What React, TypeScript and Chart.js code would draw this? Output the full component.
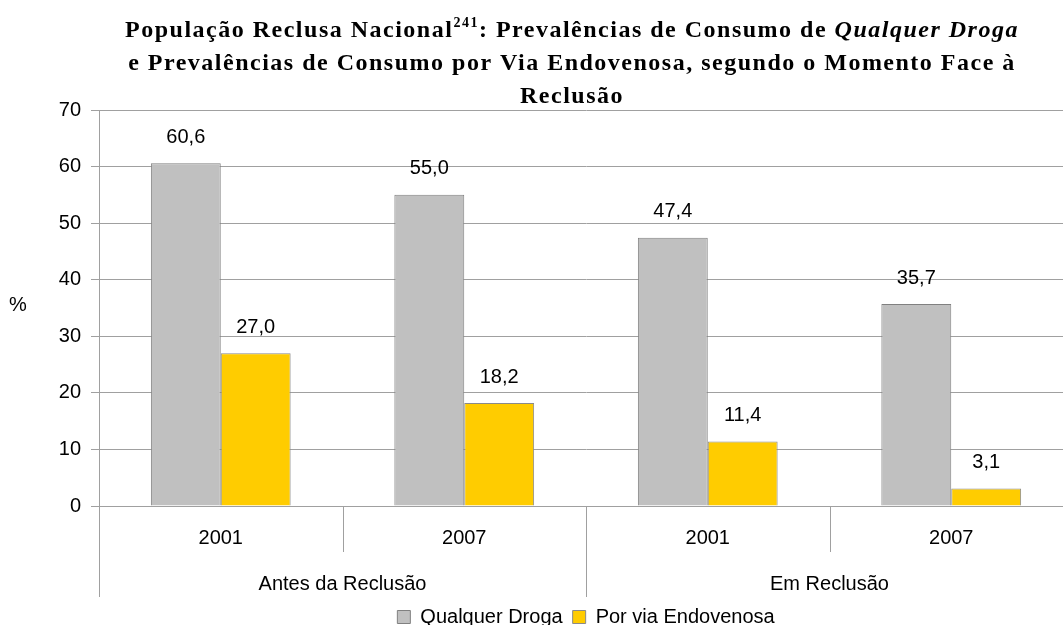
import React, { useEffect, useRef } from "react";
import { Chart, registerables } from "chart.js";

Chart.register(...registerables);

const periods = ["Antes da Reclusão", "Em Reclusão"];
const years = ["2001", "2007", "2001", "2007"];
const qualquerDroga = [60.6, 55.0, 47.4, 35.7];
const viaEndovenosa = [27.0, 18.2, 11.4, 3.1];
const seriesNames = ["Qualquer Droga", "Por via Endovenosa"];
const yMin = 0;
const yMax = 70;
const yStep = 10;
const yAxisLabel = "%";

type Seg = { t: string; italic?: boolean; sup?: boolean };
const titleLines: Seg[][] = [
  [
    { t: "População Reclusa Nacional" },
    { t: "241", sup: true },
    { t: ": Prevalências de Consumo de " },
    { t: "Qualquer Droga", italic: true },
  ],
  [{ t: "e Prevalências de Consumo por Via Endovenosa, segundo o Momento Face à" }],
  [{ t: "Reclusão" }],
];

const SANS = "'Liberation Sans', Arial, sans-serif";
const SERIF = "'Liberation Serif', 'Times New Roman', serif";

const overlayPlugin = {
  id: "overlay",
  afterDraw(chart: any) {
    const ctx = chart.ctx as CanvasRenderingContext2D;
    const area = chart.chartArea;
    const xs = chart.scales.x;

    ctx.save();
    // Title
    const titleSize = 24;
    const fontFor = (s: Seg) =>
      `${s.italic ? "italic " : ""}bold ${s.sup ? 14 : titleSize}px ${SERIF}`;
    (ctx as any).letterSpacing = "1.5px";
    ctx.fillStyle = "#000";
    ctx.textBaseline = "alphabetic";
    ctx.textAlign = "left";
    const baselines = [37, 70, 103];
    const titleCenter = 572;
    titleLines.forEach((line, li) => {
      let total = 0;
      line.forEach((s) => {
        ctx.font = fontFor(s);
        total += ctx.measureText(s.t).width;
      });
      let x = titleCenter - total / 2;
      line.forEach((s) => {
        ctx.font = fontFor(s);
        ctx.fillText(s.t, x, baselines[li] - (s.sup ? 10 : 0));
        x += ctx.measureText(s.t).width;
      });
    });
    (ctx as any).letterSpacing = "0px";

    // Y axis label
    ctx.font = `20px ${SANS}`;
    ctx.textAlign = "center";
    ctx.textBaseline = "middle";
    ctx.fillText(yAxisLabel, 18, (area.top + area.bottom) / 2 - 3);

    // Category separators
    const catW = (area.right - area.left) / years.length;
    ctx.strokeStyle = "#a0a0a0";
    ctx.lineWidth = 1;
    for (let i = 0; i <= years.length; i++) {
      const bx = Math.round(xs.getPixelForValue(0) - catW / 2 + i * catW) + 0.5;
      const isGroup = i % 2 === 0;
      ctx.beginPath();
      ctx.moveTo(bx, area.bottom);
      ctx.lineTo(bx, area.bottom + (isGroup ? 91 : 46));
      ctx.stroke();
    }

    // Group labels
    ctx.fillStyle = "#000";
    ctx.font = `20px ${SANS}`;
    periods.forEach((p, gi) => {
      const cx = (xs.getPixelForValue(gi * 2) + xs.getPixelForValue(gi * 2 + 1)) / 2;
      ctx.fillText(p, cx, area.bottom + 78);
    });

    // Data labels
    chart.data.datasets.forEach((ds: any, di: number) => {
      const meta = chart.getDatasetMeta(di);
      meta.data.forEach((bar: any, j: number) => {
        const v = ds.data[j] as number;
        ctx.fillText(v.toFixed(1).replace(".", ","), bar.x, bar.y - 26);
      });
    });
    ctx.restore();
  },
};

export default function App() {
  const ref = useRef<HTMLCanvasElement | null>(null);
  useEffect(() => {
    if (!ref.current) return;
    const chart = new Chart(ref.current, {
      type: "bar",
      data: {
        labels: years,
        datasets: [
          {
            label: seriesNames[0],
            data: qualquerDroga,
            backgroundColor: "#c0c0c0",
            borderColor: "#808080",
            borderWidth: 1,
            categoryPercentage: 0.574,
            barPercentage: 1,
          },
          {
            label: seriesNames[1],
            data: viaEndovenosa,
            backgroundColor: "#ffcc00",
            borderColor: "#8a8a8a",
            borderWidth: 1,
            categoryPercentage: 0.574,
            barPercentage: 1,
          },
        ],
      },
      options: {
        responsive: false,
        animation: false,
        devicePixelRatio: 1,
        layout: { padding: { top: 110, left: 0, right: 27, bottom: -12 } },
        plugins: {
          title: { display: false },
          tooltip: { enabled: false },
          legend: {
            position: "bottom",
            fullSize: false,
            labels: {
              boxWidth: 13,
              boxHeight: 13,
              padding: 10,
              color: "#000",
              font: { size: 20, family: SANS },
            },
          },
        },
        scales: {
          x: {
            grid: { display: false, drawTicks: false },
            border: { display: false },
            ticks: { color: "#000", font: { size: 20, family: SANS }, padding: 20 },
            afterFit: (s: any) => {
              s.height = 91;
            },
          },
          y: {
            min: yMin,
            max: yMax,
            ticks: { stepSize: yStep, color: "#000", font: { size: 20, family: SANS }, padding: 10 },
            grid: { color: "#a0a0a0", tickLength: 8 },
            border: { display: true, color: "#a0a0a0" },
            afterFit: (s: any) => {
              s.width = 99;
            },
          },
        },
      },
      plugins: [overlayPlugin],
    });
    return () => chart.destroy();
  }, []);
  return (
    <div
      style={{
        position: "fixed",
        left: 0,
        top: 0,
        width: 1063,
        height: 625,
        overflow: "hidden",
        background: "#fff",
      }}
    >
      <canvas ref={ref} width={1100} height={625} style={{ display: "block", width: 1100, height: 625 }} />
    </div>
  );
}
